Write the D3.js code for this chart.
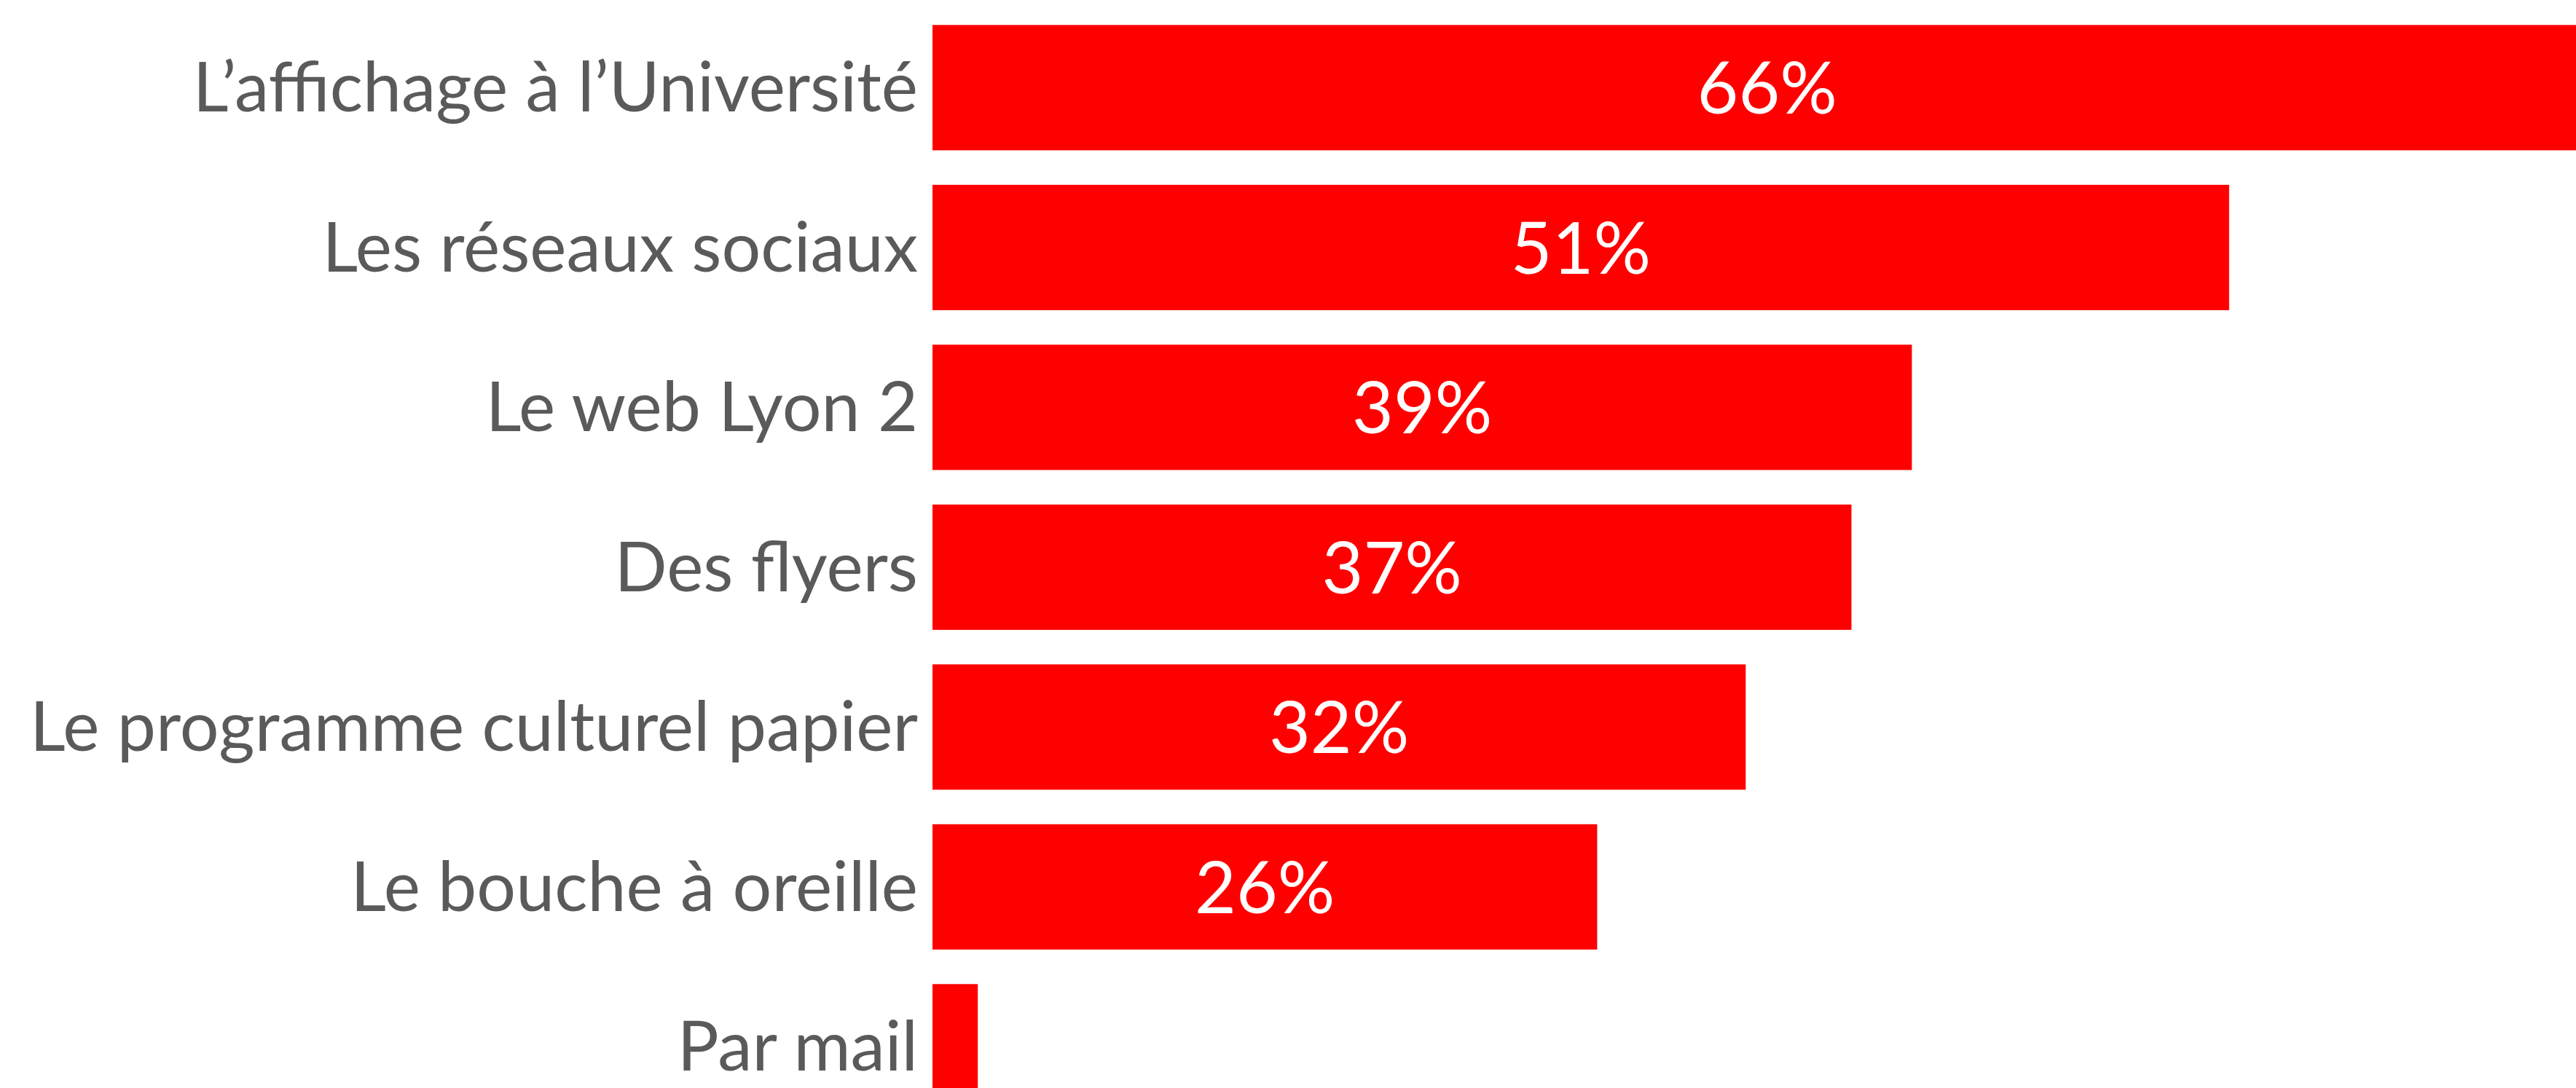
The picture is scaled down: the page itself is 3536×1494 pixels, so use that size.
<!DOCTYPE html>
<html>
<head>
<meta charset="utf-8">
<script src="https://cdn.jsdelivr.net/npm/d3@7"></script>
<style>
  html, body { margin: 0; padding: 0; background: #fff; overflow: hidden; }
  svg { display: block; }
</style>
</head>
<body>
<script>
// categories, top to bottom
const categories = [
    "L\u2019affichage à l\u2019Université",
    "Les réseaux sociaux",
    "Le web Lyon 2",
    "Des flyers",
    "Le programme culturel papier",
    "Le bouche à oreille",
    "Par mail"
];
// share of respondents (%)
const values = [66.3, 51.5, 38.9, 36.5, 32.3, 26.4, 1.8];
const labels = ["66%", "51%", "39%", "37%", "32%", "26%", ""];

const width = 3536;
const height = 1494;

const svg = d3.select('body').append('svg')
    .attr('width', width)
    .attr('height', height);

// bars start at x=1280, about 34.56px per percent
const x = d3.scaleLinear()
    .domain([0, 100])
    .range([1280, 1280 + 3456]);

const y = d3.scaleBand()
    .domain(categories)
    .range([10.6, 10.6 + 7 * 219.5])
    .paddingInner(0.216)
    .paddingOuter(0.108);

const font = 'Lato, "Open Sans", sans-serif';

svg.append('g')
    .selectAll('rect')
    .data(values)
    .enter().append('rect')
    .attr('x', x(0))
    .attr('y', (d, i) => y(categories[i]))
    .attr('width', d => x(d) - x(0))
    .attr('height', y.bandwidth())
    .attr('fill', '#ff0000');

// category labels, right-aligned next to the bars
svg.append('g')
    .selectAll('text')
    .data(categories)
    .enter().append('text')
    .attr('x', x(0) - 20)
    .attr('y', d => y(d) + y.bandwidth() / 2 + 33)
    .attr('text-anchor', 'end')
    .attr('font-family', font)
    .attr('font-size', 95)
    .attr('fill', '#5a5a5a')
    .text(d => d);

// value labels centred in each bar
svg.append('g')
    .selectAll('text')
    .data(values)
    .enter().append('text')
    .attr('x', d => (x(0) + x(d)) / 2)
    .attr('y', (d, i) => y(categories[i]) + y.bandwidth() / 2 + 36)
    .attr('text-anchor', 'middle')
    .attr('font-family', font)
    .attr('font-size', 98)
    .attr('fill', '#ffffff')
    .text((d, i) => labels[i]);
</script>
</body>
</html>
